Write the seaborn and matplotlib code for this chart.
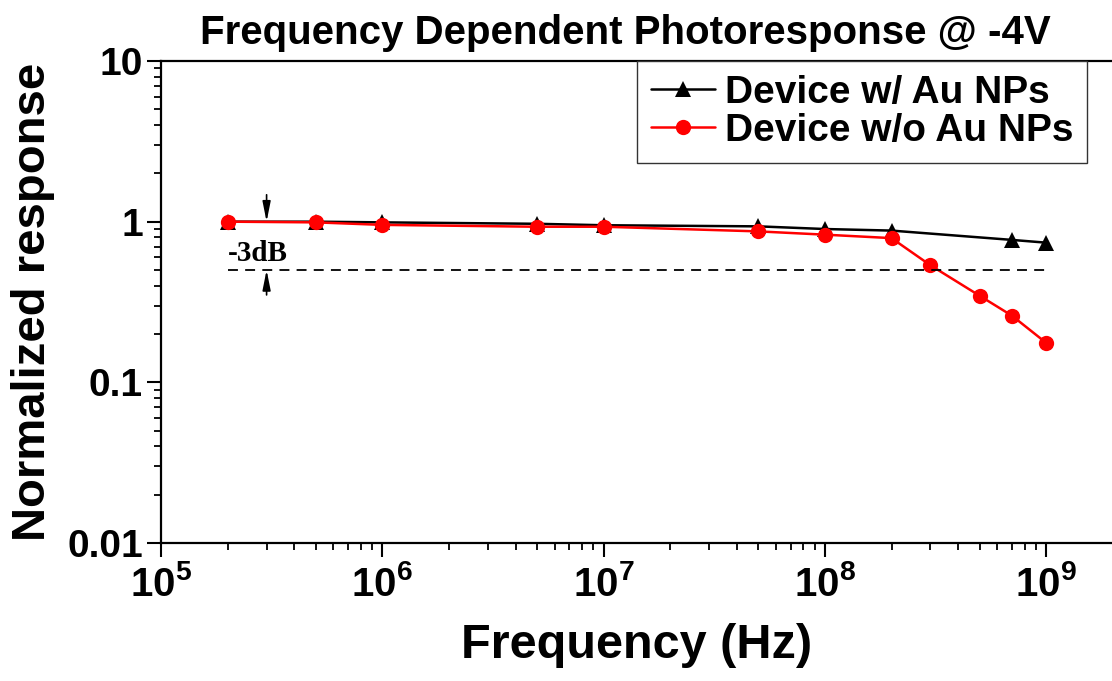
import numpy as np
import pandas as pd
import matplotlib
matplotlib.use("Agg")
import matplotlib.pyplot as plt
import seaborn as sns
from matplotlib.ticker import LogLocator, FixedLocator, FuncFormatter, NullFormatter

# Measured photoresponse (normalized) versus modulation frequency
freq_with = [2e5, 5e5, 1e6, 5e6, 1e7, 5e7, 1e8, 2e8, 7e8, 1e9]
resp_with = [1.0, 1.0, 0.99, 0.97, 0.95, 0.935, 0.90, 0.88, 0.77, 0.74]

freq_without = [2e5, 5e5, 1e6, 5e6, 1e7, 5e7, 1e8, 2e8, 3e8, 5e8, 7e8, 1e9]
resp_without = [1.0, 0.99, 0.955, 0.93, 0.93, 0.87, 0.83, 0.79, 0.535, 0.346, 0.26, 0.176]

label_with = "Device w/ Au NPs"
label_without = "Device w/o Au NPs"
title = "Frequency Dependent Photoresponse @ -4V"
xlabel = "Frequency (Hz)"
ylabel = "Normalized response"
ytick_values = [0.01, 0.1, 1, 10]
ytick_labels = ["0.01", "0.1", "1", "10"]
xtick_exponents = [5, 6, 7, 8, 9]
cutoff_level = 0.5
cutoff_span = [2e5, 1e9]
marker_freq = 3e5

sns.set_theme(style="white")
plt.rcParams["font.family"] = ["Liberation Sans", "DejaVu Sans"]
plt.rcParams["font.weight"] = "bold"
for key in ["text.color", "axes.labelcolor", "xtick.color", "ytick.color", "axes.edgecolor"]:
    plt.rcParams[key] = "black"
plt.rcParams["mathtext.fontset"] = "custom"
plt.rcParams["mathtext.rm"] = "Liberation Sans:bold"
plt.rcParams["mathtext.bf"] = "Liberation Sans:bold"
plt.rcParams["mathtext.it"] = "Liberation Sans:bold"

fig = plt.figure(figsize=(11.12, 6.81), dpi=100)
ax_w = 1.02 * 1112 - 161
ax = fig.add_axes([161 / 1112, 138 / 681, ax_w / 1112, 482 / 681])

df_with = pd.DataFrame({"f": freq_with, "r": resp_with})
df_without = pd.DataFrame({"f": freq_without, "r": resp_without})

sns.lineplot(data=df_with, x="f", y="r", ax=ax, color="black", lw=1.8,
             marker="^", markersize=11, markeredgewidth=0, label=label_with)
sns.lineplot(data=df_without, x="f", y="r", ax=ax, color="#ff0000", lw=1.8,
             marker="o", markersize=11, markeredgewidth=0, label=label_without)

ax.set_xscale("log")
ax.set_yscale("log")
decades = ax_w / 221.3
ax.set_xlim(1e5, 10 ** (5 + decades))
ax.set_ylim(0.01, 10)

# -3 dB reference line and level markers
ax.plot(cutoff_span, [cutoff_level, cutoff_level], color="black", lw=1.3,
        ls=(0, (5.5, 4)))
arrow = dict(arrowstyle="-|>,head_length=1.0,head_width=0.2", color="black",
             lw=1.2, shrinkA=0, shrinkB=0)
ax.annotate("", xy=(marker_freq, 1.0), xytext=(marker_freq, 1.47), arrowprops=arrow)
ax.annotate("", xy=(marker_freq, cutoff_level), xytext=(marker_freq, 0.35),
            arrowprops=arrow)
ax.text(2.0e5, 0.635, "-3dB", family=["Liberation Serif", "DejaVu Serif"],
        fontsize=21, fontweight="bold", ha="left", va="center")

# Axes styling
for side in ["left", "bottom", "top"]:
    ax.spines[side].set_color("black")
    ax.spines[side].set_linewidth(1.6)
ax.spines["right"].set_visible(False)

ax.xaxis.set_major_locator(FixedLocator([10.0 ** e for e in xtick_exponents]))
ax.xaxis.set_minor_locator(LogLocator(base=10, subs=np.arange(2, 10), numticks=20))
ax.xaxis.set_major_formatter(FuncFormatter(lambda v, p: r"$\mathbf{10^{%d}}$" % round(np.log10(v))))
ax.xaxis.set_minor_formatter(NullFormatter())
ax.yaxis.set_major_locator(FixedLocator(ytick_values))
ax.set_yticklabels(ytick_labels)
ax.yaxis.set_minor_locator(LogLocator(base=10, subs=np.arange(2, 10), numticks=20))
ax.yaxis.set_minor_formatter(NullFormatter())

ax.tick_params(axis="both", which="major", direction="out", length=10, width=1.5,
               color="black", bottom=True, left=True, top=False, right=False)
ax.tick_params(axis="both", which="minor", direction="out", length=5, width=1.3,
               color="black", bottom=True, left=True, top=False, right=False)
ax.tick_params(axis="y", which="major", labelsize=28, pad=3)
ax.tick_params(axis="x", which="major", labelsize=29, pad=6)
for lab in ax.get_yticklabels():
    lab.set_fontweight("bold")

ax.set_xlabel(xlabel, fontsize=35, fontweight="bold")
ax.set_ylabel(ylabel, fontsize=34, fontweight="bold")
ax.xaxis.set_label_coords((637 - 161) / ax_w, -0.165)
ax.yaxis.set_label_coords(-(161 - 33) / ax_w, 0.5)
ax.yaxis.label.set_va("center")
ax.set_title(title, fontsize=29, fontweight="bold", x=(625 - 161) / ax_w, pad=12)

leg = ax.legend(loc="upper left", bbox_to_anchor=((637 - 161) / ax_w, 1.0),
                frameon=True, fancybox=False, edgecolor="#333333", framealpha=1,
                prop={"family": ["Liberation Sans", "DejaVu Sans"], "weight": "bold", "size": 28},
                handlelength=1.65, handletextpad=0.25, borderpad=0.36, labelspacing=0.05,
                borderaxespad=0)
leg.get_frame().set_linewidth(1.0)

fig.savefig("out.png", dpi=100)
